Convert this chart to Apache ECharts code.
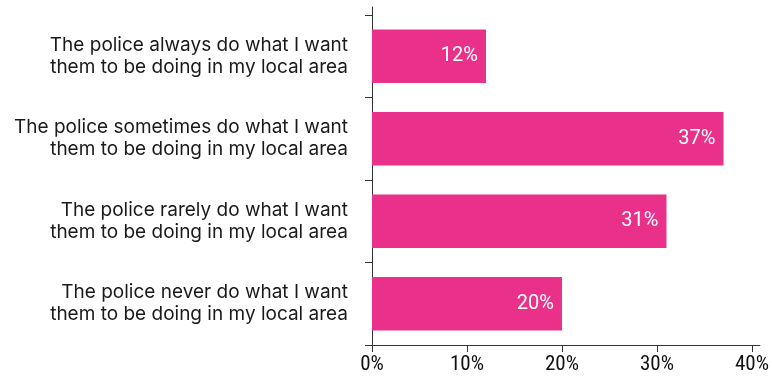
<!DOCTYPE html>
<html>
<head>
<meta charset="utf-8">
<style>
  html, body { margin: 0; padding: 0; background: #ffffff; }
  #chart { width: 772px; height: 382px; }
</style>
<script src="https://cdn.jsdelivr.net/npm/echarts@6/dist/echarts.min.js"></script>
</head>
<body>
<div id="chart"></div>
<script>
// Survey answers, top to bottom
const categories = [
  'The police always do what I want\nthem to be doing in my local area',
  'The police sometimes do what I want\nthem to be doing in my local area',
  'The police rarely do what I want\nthem to be doing in my local area',
  'The police never do what I want\nthem to be doing in my local area'
];
// Share of respondents (%)
const shares = [12, 37, 31, 20];
// Percentage ticks on the value axis
const tickValues = [0, 10, 20, 30, 40];

const PINK = '#E9318A';
const AXIS = '#333333';
const narrowFont = "'Liberation Sans Narrow', 'Roboto Condensed', Roboto, sans-serif";

const chart = echarts.init(document.getElementById('chart'), null, { renderer: 'canvas' });

chart.setOption({
  animation: false,
  backgroundColor: '#ffffff',
  grid: [
    { left: 366, right: 11, top: 15, bottom: 37, containLabel: false },
    // thin grid that only carries the full-height vertical axis line
    { left: 372, width: 10, top: 7, bottom: 37, containLabel: false }
  ],
  xAxis: [
    {
      gridIndex: 0,
      type: 'value',
      min: -0.63,
      max: 40.84,
      axisLine: { show: true, onZero: false, lineStyle: { color: AXIS, width: 1 } },
      axisTick: { show: true, customValues: tickValues, length: 7, lineStyle: { color: AXIS } },
      axisLabel: {
        customValues: tickValues,
        formatter: '{value}%',
        fontFamily: narrowFont,
        fontSize: 21,
        color: '#111111',
        margin: 9
      },
      splitLine: { show: false }
    },
    { gridIndex: 1, type: 'value', show: false, min: 0, max: 1 }
  ],
  yAxis: [
    {
      gridIndex: 0,
      type: 'category',
      inverse: true,
      data: categories,
      axisLine: { show: false, onZero: true },
      axisTick: { show: true, length: 7, lineStyle: { color: AXIS } },
      axisLabel: {
        fontFamily: 'Inter, sans-serif',
        fontSize: 19,
        lineHeight: 22,
        color: '#1a1a1a',
        margin: 18,
        align: 'right'
      }
    },
    {
      gridIndex: 1,
      type: 'value',
      min: 0,
      max: 1,
      axisLine: { show: true, lineStyle: { color: AXIS, width: 1 } },
      axisTick: { show: false },
      axisLabel: { show: false },
      splitLine: { show: false }
    }
  ],
  series: [
    {
      type: 'bar',
      xAxisIndex: 0,
      yAxisIndex: 0,
      data: shares,
      barCategoryGap: '35%',
      itemStyle: { color: PINK },
      label: {
        show: true,
        position: 'insideRight',
        distance: 8,
        formatter: '{c}%',
        color: '#ffffff',
        fontFamily: 'Roboto, sans-serif',
        fontSize: 20
      }
    }
  ]
});
</script>
</body>
</html>
